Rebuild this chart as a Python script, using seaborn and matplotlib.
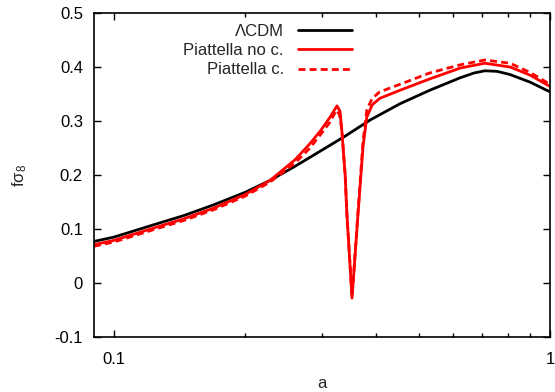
import numpy as np
import pandas as pd
import matplotlib
matplotlib.use("Agg")
import matplotlib.pyplot as plt
import seaborn as sns
from matplotlib.ticker import FixedLocator, NullFormatter

# values
a_lcdm = [0.090, 0.100, 0.1235, 0.1448, 0.1696, 0.200, 0.228, 0.260, 0.297,
          0.339, 0.387, 0.453, 0.530, 0.622, 0.670, 0.709, 0.756, 0.810, 0.900, 1.000]
fs8_lcdm = [0.077, 0.085, 0.108, 0.125, 0.145, 0.168, 0.190, 0.216, 0.244,
            0.272, 0.302, 0.332, 0.357, 0.380, 0.389, 0.393, 0.392, 0.386, 0.372, 0.354]

a_pnc = [0.090, 0.100, 0.1235, 0.1448, 0.1696, 0.200, 0.228, 0.260, 0.280, 0.297, 0.313,
         0.3246, 0.330, 0.333, 0.339, 0.342, 0.348, 0.3515, 0.355, 0.363, 0.3725,
         0.380, 0.391, 0.407, 0.453, 0.530, 0.622, 0.709, 0.810, 0.900, 1.000]
fs8_pnc = [0.071, 0.079, 0.102, 0.119, 0.139, 0.164, 0.190, 0.228, 0.256, 0.281, 0.307,
           0.328, 0.318, 0.283, 0.200, 0.130, 0.030, -0.028, 0.020, 0.130, 0.252,
           0.307, 0.330, 0.342, 0.357, 0.378, 0.398, 0.407, 0.400, 0.385, 0.364]

a_pc = [0.090, 0.100, 0.1235, 0.1448, 0.1696, 0.200, 0.228, 0.260, 0.280, 0.297, 0.313,
        0.3235, 0.329, 0.333, 0.339, 0.342, 0.348, 0.3515, 0.355, 0.363, 0.3725,
        0.380, 0.391, 0.407, 0.453, 0.530, 0.622, 0.709, 0.810, 0.900, 1.000]
fs8_pc = [0.068, 0.076, 0.099, 0.116, 0.136, 0.161, 0.187, 0.222, 0.248, 0.274, 0.298,
          0.320, 0.312, 0.285, 0.200, 0.130, 0.032, -0.025, 0.022, 0.135, 0.262,
          0.320, 0.342, 0.354, 0.368, 0.389, 0.404, 0.413, 0.407, 0.390, 0.368]

sns.set_theme(style="ticks")
plt.rcParams["font.family"] = ["Liberation Sans", "DejaVu Sans"]
plt.rcParams["mathtext.fontset"] = "custom"
plt.rcParams["mathtext.rm"] = "Liberation Sans"
plt.rcParams["mathtext.default"] = "regular"

fig = plt.figure(figsize=(5.55, 3.92), dpi=100)
ax = fig.add_axes([0.1694, 0.1403, 0.8216, 0.8265])

sns.lineplot(x=a_lcdm, y=fs8_lcdm, color="black", lw=2, label="ΛCDM",
             sort=False, estimator=None, ax=ax)
sns.lineplot(x=a_pnc, y=fs8_pnc, color="#ff0000", lw=2, label="Piattella no c.",
             sort=False, estimator=None, ax=ax)
sns.lineplot(x=a_pc, y=fs8_pc, color="#ff0000", lw=2, label="Piattella c.",
             linestyle=(0, (2.5, 1.5)), sort=False, estimator=None, ax=ax)

ax.set_xscale("log")
ax.set_xlim(0.09, 1)
ax.set_ylim(-0.1, 0.5)
ax.xaxis.set_major_locator(FixedLocator([0.1, 1]))
ax.set_xticklabels(["0.1", "1"])
ax.xaxis.set_minor_locator(FixedLocator([0.2, 0.3, 0.4, 0.5, 0.6, 0.7, 0.8, 0.9]))
ax.xaxis.set_minor_formatter(NullFormatter())
yt = [-0.1, 0, 0.1, 0.2, 0.3, 0.4, 0.5]
ax.set_yticks(yt)
ax.set_yticklabels(["-0.1", "0", "0.1", "0.2", "0.3", "0.4", "0.5"])

ax.tick_params(which="both", direction="in", top=True, right=True,
               labelsize=12, width=1, colors="black")
ax.tick_params(which="major", length=5)
ax.tick_params(axis="y", which="major", pad=8)
ax.tick_params(axis="x", which="major", pad=11)
ax.tick_params(which="minor", length=3)
for s in ax.spines.values():
    s.set_linewidth(1.2)
    s.set_color("black")

ax.set_xlabel("a", fontsize=12, labelpad=6)
ax.set_ylabel("fσ$_8$", fontsize=12, labelpad=18)

leg = ax.legend(loc="upper right", bbox_to_anchor=(0.566, 0.966), frameon=False,
                markerfirst=False, fontsize=12, borderpad=0, borderaxespad=0,
                handlelength=3.25, handletextpad=0.85, labelspacing=0.25)

fig.savefig("out.png", dpi=100)
